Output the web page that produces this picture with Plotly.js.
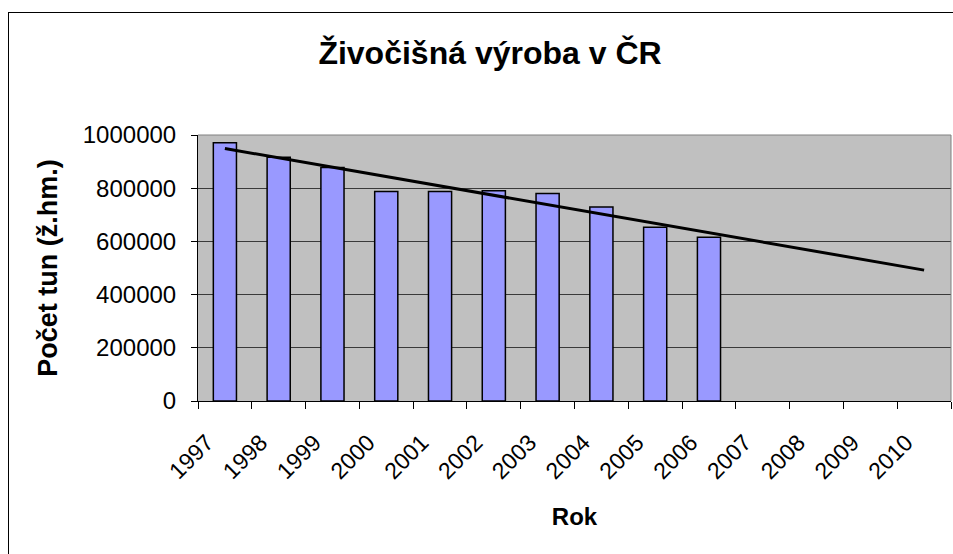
<!DOCTYPE html>
<html>
<head>
<meta charset="utf-8">
<script src="https://cdn.plot.ly/plotly-3.0.1.min.js"></script>
<style>
html,body{margin:0;padding:0;background:#fff;}
#frame{position:absolute;left:8px;top:12px;width:980px;height:600px;border-left:1px solid #000;border-top:1px solid #000;}
#chart{position:absolute;left:0;top:0;width:953px;height:554px;}
</style>
</head>
<body>
<div id="frame"></div>
<div id="chart"></div>
<script>
const years = ['1997','1998','1999','2000','2001','2002','2003','2004','2005','2006','2007','2008','2009','2010'];
const barYears = ['1997','1998','1999','2000','2001','2002','2003','2004','2005','2006'];
const tonnes = [971000, 916000, 878000, 788000, 788000, 790000, 780000, 729000, 653000, 616000];
const titleText = 'Živočišná výroba v ČR';
const xTitle = 'Rok';
const yTitle = 'Počet tun (ž.hm.)';

// Linear trend (least squares on category index), extended to the last category
const n = tonnes.length;
const xs = tonnes.map((_, i) => i + 1);
const mx = xs.reduce((a, b) => a + b, 0) / n;
const my = tonnes.reduce((a, b) => a + b, 0) / n;
let sxy = 0, sxx = 0;
for (let i = 0; i < n; i++) { sxy += (xs[i] - mx) * (tonnes[i] - my); sxx += (xs[i] - mx) ** 2; }
const slope = sxy / sxx, icpt = my - slope * mx;
const trendX = [years[0], years[years.length - 1]];
const trendY = [icpt + slope * 1, icpt + slope * years.length];

const font = "Liberation Sans, Arial, sans-serif";

const data = [
  {type: 'bar', x: barYears, y: tonnes,
   marker: {color: '#9999FF', line: {color: '#000', width: 1.5}},
   hoverinfo: 'x+y'},
  {type: 'scatter', mode: 'lines', x: trendX, y: trendY,
   line: {color: '#000', width: 3}, hoverinfo: 'skip'}
];

const layout = {
  width: 953, height: 554,
  paper_bgcolor: 'rgba(0,0,0,0)',
  plot_bgcolor: '#C0C0C0',
  showlegend: false,
  bargap: 0.57,
  margin: {l: 198, r: 2, t: 135, b: 153},
  font: {family: font, color: '#000'},
  title: {text: '<b>' + titleText + '</b>', font: {family: font, size: 32, color: '#000'},
          x: 490/953, xref: 'container', xanchor: 'center',
          y: 1 - 53/554, yref: 'container', yanchor: 'middle'},
  xaxis: {
    type: 'category', categoryorder: 'array', categoryarray: years,
    range: [-0.5, years.length - 0.5],
    tickson: 'boundaries', ticks: 'outside', ticklen: 7, tickcolor: '#000', tickwidth: 1,
    tickangle: -45, tickfont: {family: font, size: 23, color: '#000'},
    ticklabelstandoff: 18, ticklabelshift: -18,
    showline: true, linecolor: '#000', linewidth: 1,
    showgrid: false, zeroline: false, fixedrange: true,
    title: {text: '<b>' + xTitle + '</b>', font: {family: font, size: 24, color: '#000'}, standoff: 25},
    automargin: false
  },
  yaxis: {
    range: [0, 1000000], dtick: 200000, tick0: 0, tickformat: 'd',
    ticks: 'outside', ticklen: 6, tickcolor: '#000', tickwidth: 1,
    ticklabelstandoff: 10,
    tickfont: {family: font, size: 24, color: '#000'},
    showline: true, linecolor: '#000', linewidth: 1,
    showgrid: true, gridcolor: '#3a3a3a', gridwidth: 1,
    zeroline: false, fixedrange: true,
    title: {text: '<b>' + yTitle + '</b>', font: {family: font, size: 27, color: '#000'}, standoff: 17},
    automargin: false
  },
  shapes: [
    {type: 'line', xref: 'paper', yref: 'paper', x0: 0, x1: 1, y0: 1, y1: 1, line: {color: '#808080', width: 1}},
    {type: 'line', xref: 'paper', yref: 'paper', x0: 1, x1: 1, y0: 0, y1: 1, line: {color: '#808080', width: 1}}
  ]
};

Plotly.newPlot('chart', data, layout, {displayModeBar: false});
</script>
</body>
</html>
